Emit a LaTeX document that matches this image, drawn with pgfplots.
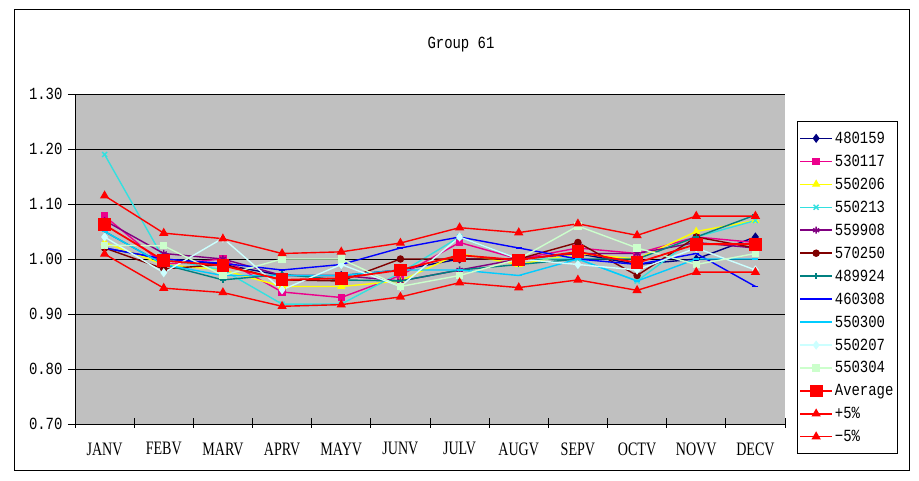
\documentclass[border=0pt]{standalone}
\usepackage{pgfplots}
\usepackage{pgfplotstable}
\pgfplotsset{compat=1.18}
\usepackage{fontspec}
\setmainfont{Liberation Serif}
\newfontfamily\monofont[FakeStretch=0.82]{Liberation Mono}
\newfontfamily\narrowserif[FakeStretch=0.74]{Liberation Serif}
\definecolor{navyc}{HTML}{000080}
\definecolor{purp}{HTML}{800080}
\definecolor{dred}{HTML}{800000}
\definecolor{tealc}{HTML}{008080}
\definecolor{sky}{HTML}{00CCFF}
\definecolor{paleC}{HTML}{CCFFFF}
\definecolor{paleG}{HTML}{CCFFCC}
\definecolor{turq}{HTML}{33E0E0}
\definecolor{yel}{HTML}{FFFF00}
\definecolor{plotbg}{HTML}{C0C0C0}
\pgfplotstableread{
m a b c d e f g h i j k avg plus minus
0 1.020 1.078 1.030 1.190 1.070 1.020 1.050 1.020 1.050 1.040 1.025 1.062 1.115 1.009
1 1.000 0.990 0.990 1.000 1.010 0.982 0.990 1.000 0.990 0.975 1.024 0.997 1.047 0.947
2 0.990 1.000 0.980 0.980 1.000 0.990 0.962 0.992 0.970 1.038 0.970 0.988 1.037 0.939
3 0.970 0.940 0.950 0.918 0.970 0.962 0.972 0.980 0.970 0.944 1.000 0.962 1.010 0.914
4 0.970 0.930 0.950 0.918 0.970 0.960 0.962 0.990 0.970 0.990 1.000 0.965 1.013 0.917
5 0.980 0.970 0.960 0.975 0.960 1.000 0.960 1.020 0.980 0.950 0.950 0.980 1.029 0.931
6 1.000 1.030 1.010 1.040 0.980 1.000 0.980 1.040 0.980 1.040 0.970 1.007 1.057 0.957
7 1.000 1.000 0.990 1.000 1.000 1.000 0.990 1.020 0.970 1.000 1.000 0.998 1.048 0.948
8 1.010 1.020 1.010 1.000 1.010 1.030 1.000 1.000 1.000 0.990 1.060 1.013 1.064 0.962
9 0.990 1.010 1.000 0.960 1.010 0.970 1.000 0.990 0.960 0.980 1.020 0.993 1.043 0.943
10 1.000 1.040 1.050 1.040 1.030 1.040 1.040 1.010 1.000 1.020 0.990 1.027 1.078 0.976
11 1.040 1.030 1.070 1.070 1.020 1.020 1.080 0.950 1.000 0.980 1.010 1.027 1.078 0.976
}\data
\begin{document}
\begin{tikzpicture}[x=1pt,y=1pt]
\useasboundingbox (0,0) rectangle (919,481);
\draw[black, line width=0.8pt] (14,11) rectangle (909,472);
\node[font=\monofont\fontsize{17}{19}\selectfont] at (461,436) {Group 61};
\begin{axis}[
  at={(75pt,57pt)}, anchor=south west,
  width=710pt, height=330pt, scale only axis,
  xmin=-0.5, xmax=11.5, ymin=0.7, ymax=1.3,
  axis background/.style={fill=plotbg},
  axis x line*=bottom, axis y line*=left,
  axis line style={black, line width=0.8pt, -},
  tick align=outside,
  major tick length=10pt,
  xtick={-0.5,0.5,1.5,2.5,3.5,4.5,5.5,6.5,7.5,8.5,9.5,10.5,11.5},
  xticklabels={},
  xtick style={black, line width=0.8pt, yshift=6pt},
  extra x ticks={0,1,2,3,4,5,6,7,8,9,10,11},
  extra x tick labels={JANV,FEBV,MARV,APRV,MAYV,JUNV,JULV,AUGV,SEPV,OCTV,NOVV,DECV},
  extra x tick style={major tick length=0pt, grid=none},
  ytick={0.7,0.8,0.9,1.0,1.1,1.2,1.3},
  yticklabels={0.70,0.80,0.90,1.00,1.10,1.20,1.30},
  ytick style={black, line width=0.8pt, xshift=3pt},
  ymajorgrids, grid style={black, line width=0.8pt},
  xticklabel style={font=\narrowserif\fontsize{19}{21}\selectfont, yshift=-15pt},
  yticklabel style={font=\monofont\fontsize{17}{19}\selectfont, xshift=1pt},
  legend style={at={(1,1)}, anchor=north west, xshift=12pt, yshift=-27pt,
    draw=black, line width=0.8pt, fill=white, font=\monofont\fontsize{17}{19}\selectfont,
    row sep=6.1pt, inner xsep=2pt, inner ysep=8.5pt},
  legend cell align=left,
  legend image code/.code={\draw[#1, line width=1.5pt] (0pt,0pt) -- (32pt,0pt); \draw[#1, only marks] plot coordinates {(16pt,0pt)};},
  every axis plot/.append style={line width=1.4pt},
  clip=false,
]
\addplot[navyc, mark=diamond*, mark size=3.5pt] table[x=m,y=a]{\data}; \addlegendentry{480159}
\addplot[magenta, mark=square*, mark size=3pt] table[x=m,y=b]{\data}; \addlegendentry{530117}
\addplot[yel, mark=triangle*, mark size=3.5pt] table[x=m,y=c]{\data}; \addlegendentry{550206}
\addplot[turq, mark=x, mark size=3.5pt] table[x=m,y=d]{\data}; \addlegendentry{550213}
\addplot[purp, mark=asterisk, mark size=3.5pt] table[x=m,y=e]{\data}; \addlegendentry{559908}
\addplot[dred, mark=*, mark size=3pt] table[x=m,y=f]{\data}; \addlegendentry{570250}
\addplot[tealc, mark=+, mark size=3pt] table[x=m,y=g]{\data}; \addlegendentry{489924}
\addplot[blue, mark=-, mark size=3pt] table[x=m,y=h]{\data}; \addlegendentry{460308}
\addplot[sky, mark=-, mark size=3pt] table[x=m,y=i]{\data}; \addlegendentry{550300}
\addplot[paleC, mark=diamond*, mark size=3.5pt] table[x=m,y=j]{\data}; \addlegendentry{550207}
\addplot[paleG, mark=square*, mark size=3pt] table[x=m,y=k]{\data}; \addlegendentry{550304}
\addplot[red, line width=1.8pt, mark=square*, mark size=5.5pt] table[x=m,y=avg]{\data}; \addlegendentry{Average}
\addplot[red, mark=triangle*, mark size=4pt] table[x=m,y=plus]{\data}; \addlegendentry{+5\%}
\addplot[red, mark=triangle*, mark size=4pt] table[x=m,y=minus]{\data}; \addlegendentry{−5\%}
\end{axis}
\end{tikzpicture}
\end{document}
